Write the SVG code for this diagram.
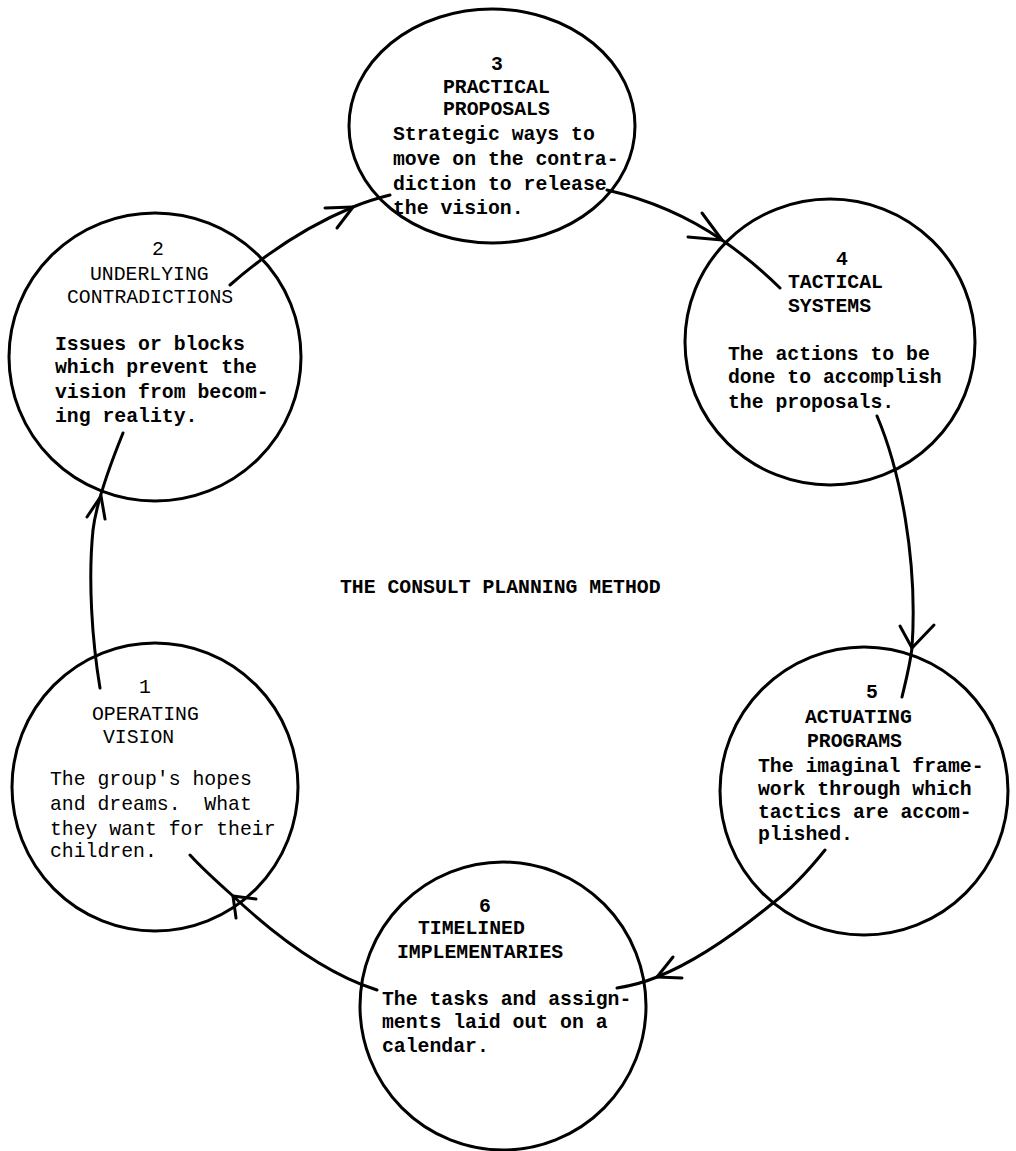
<svg xmlns="http://www.w3.org/2000/svg" width="1016" height="1151" viewBox="0 0 1016 1151">
<style>
.c{fill:none;stroke:#000;stroke-width:3}
.t{font-family:"Liberation Mono","DejaVu Sans Mono",monospace;font-size:19.8px;fill:#000;white-space:pre}
.b{font-weight:bold}
.m{text-anchor:middle}
.a{fill:none;stroke:#000;stroke-width:3;stroke-linecap:round;stroke-linejoin:round}
</style>
<rect width="1016" height="1151" fill="#fff"/>
<g id="node-3">
<ellipse class="c" cx="492" cy="126" rx="143" ry="117"/>
<text class="t b m" x="497" y="70">3</text>
<text class="t b" x="443" y="93">PRACTICAL</text>
<text class="t b" x="443" y="115">PROPOSALS</text>
<text class="t b" x="393" y="140">Strategic ways to</text>
<text class="t b" x="393" y="165">move on the contra-</text>
<text class="t b" x="393" y="190">diction to release</text>
<text class="t b" x="393" y="214">the vision.</text>
</g>
<g id="node-2">
<ellipse class="c" cx="155" cy="357" rx="146" ry="144"/>
<text class="t m" x="158" y="255">2</text>
<text class="t" x="90" y="280">UNDERLYING</text>
<text class="t" x="67" y="303">CONTRADICTIONS</text>
<text class="t b" x="55" y="350">Issues or blocks</text>
<text class="t b" x="55" y="373">which prevent the</text>
<text class="t b" x="55" y="398">vision from becom-</text>
<text class="t b" x="55" y="422">ing reality.</text>
</g>
<g id="node-4">
<ellipse class="c" cx="830" cy="342" rx="145" ry="143"/>
<text class="t b m" x="842" y="265">4</text>
<text class="t b" x="788" y="288">TACTICAL</text>
<text class="t b" x="788" y="312">SYSTEMS</text>
<text class="t b" x="728" y="360">The actions to be</text>
<text class="t b" x="728" y="383">done to accomplish</text>
<text class="t b" x="728" y="408">the proposals.</text>
</g>
<g id="node-1">
<ellipse class="c" cx="155" cy="787" rx="143" ry="144"/>
<text class="t m" x="145" y="693">1</text>
<text class="t" x="92" y="720">OPERATING</text>
<text class="t" x="103" y="743">VISION</text>
<text class="t" x="50" y="785">The group's hopes</text>
<text class="t" x="50" y="810" xml:space="preserve">and dreams.  What</text>
<text class="t" x="50" y="835">they want for their</text>
<text class="t" x="50" y="857">children.</text>
</g>
<g id="node-5">
<ellipse class="c" cx="864" cy="791" rx="144" ry="144"/>
<text class="t b m" x="872" y="698">5</text>
<text class="t b" x="805" y="723">ACTUATING</text>
<text class="t b" x="807" y="747">PROGRAMS</text>
<text class="t b" x="758" y="772">The imaginal frame-</text>
<text class="t b" x="758" y="795">work through which</text>
<text class="t b" x="758" y="818">tactics are accom-</text>
<text class="t b" x="758" y="840">plished.</text>
</g>
<g id="node-6">
<ellipse class="c" cx="503" cy="1006" rx="143" ry="144"/>
<text class="t b m" x="485" y="912">6</text>
<text class="t b" x="418" y="934">TIMELINED</text>
<text class="t b" x="397" y="958">IMPLEMENTARIES</text>
<text class="t b" x="382" y="1005">The tasks and assign-</text>
<text class="t b" x="382" y="1028">ments laid out on a</text>
<text class="t b" x="382" y="1052">calendar.</text>
</g>
<g id="title">
<text class="t b" x="340" y="593">THE CONSULT PLANNING METHOD</text>
</g>
<g id="connectors">
<path class="a" d="M100,688 C92,640 88,580 93,530 C96,505 110,465 123,433"/>
<path class="a" d="M87,517 L101,496 L105,519"/>
<path class="a" d="M230,285 C270,250 310,225 353,207 C365,202 378,198 390,195"/>
<path class="a" d="M325,208 L353,207 L337,228"/>
<path class="a" d="M607,190 C650,200 690,218 722,240 C745,256 765,273 780,288"/>
<path class="a" d="M702,213 L722,240 L688,237"/>
<path class="a" d="M877,416 C900,470 918,560 912,648 C910,665 906,680 902,697"/>
<path class="a" d="M900,626 L912,648 L934,625"/>
<path class="a" d="M825,850 C805,875 790,890 773,903 C740,930 700,960 657,977 C645,982 630,986 617,988"/>
<path class="a" d="M673,957 L657,977 L682,978"/>
<path class="a" d="M377,990 C330,975 280,940 233,896 C215,880 200,866 190,855"/>
<path class="a" d="M236,918 L233,896 L256,899"/>
</g>
</svg>
